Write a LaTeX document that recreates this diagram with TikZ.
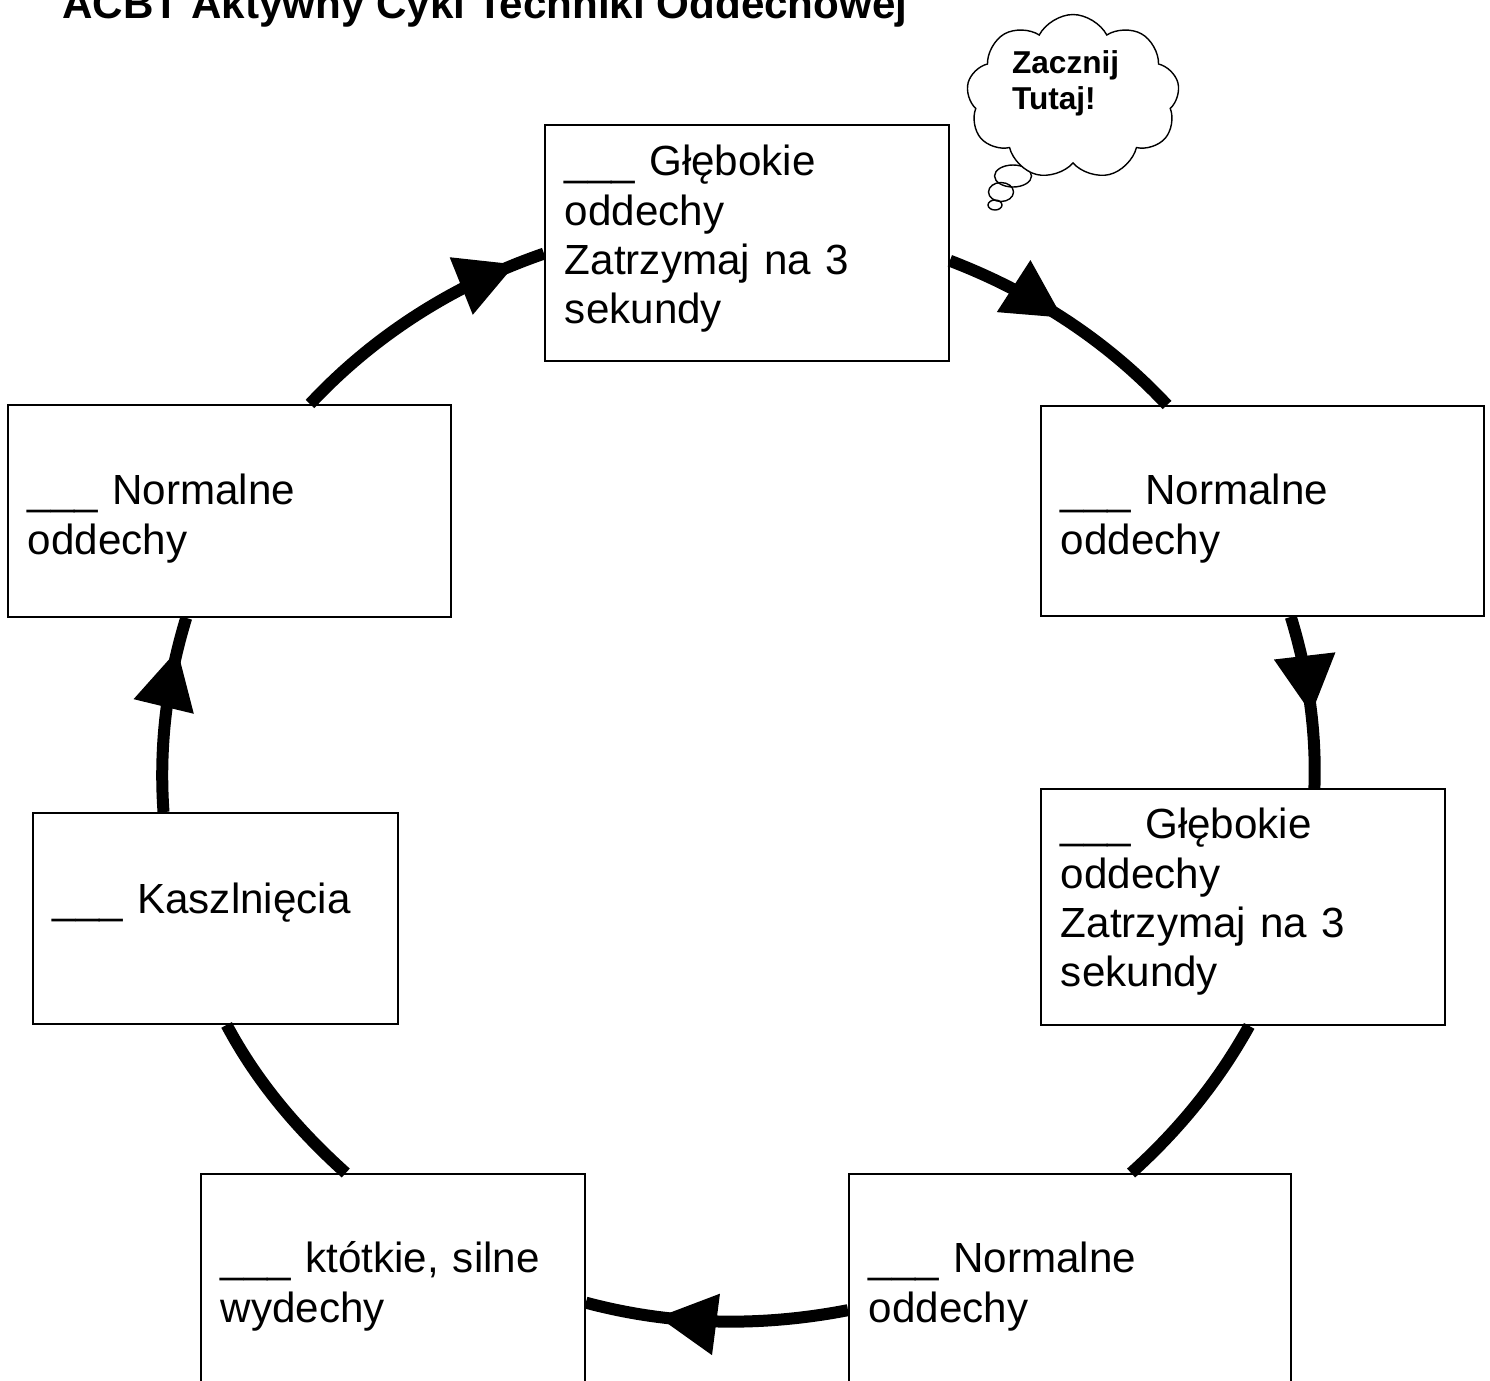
\documentclass[tikz,border=0pt]{standalone}
\usepackage{fontspec}
\setmainfont{Liberation Sans}
\usetikzlibrary{arrows.meta, decorations.markings, shapes.symbols}

\tikzset{
    stage/.style={draw, line width=1.1pt, fill=white, anchor=north west,
        align=left, inner xsep=0.4cm, inner ysep=0pt,
        font=\fontsize{24pt}{28pt}\selectfont},
    ring/.style={line width=0.24cm, looseness=0.87},
    headat/.style={decoration={markings, mark=at position #1 with
        {\arrow{Triangle[length=1.16cm, width=1.24cm, line width=0pt]}}},
        postaction={decorate}}
}

\begin{document}
\begin{tikzpicture}[x=0.02cm, y=0.02cm]
    \useasboundingbox (0,0) rectangle (1490,-1380);
    \clip (0,0) rectangle (1490,-1380);

    % Title
    \node[anchor=base west, inner sep=0pt, font=\bfseries\fontsize{24pt}{28pt}\selectfont]
        (title) at (62,-18) {ACBT Aktywny Cykl Techniki Oddechowej};

    % Thought bubble
    \draw[line width=0.8pt] (1013,-176) ellipse [x radius=18.5, y radius=11];
    \draw[line width=0.8pt] (1001,-192) ellipse [x radius=12.5, y radius=9.5];
    \draw[line width=0.8pt] (995,-205) ellipse [x radius=7, y radius=5];
    \node[cloud, draw, fill=white, line width=0.8pt, cloud puffs=9, cloud puff arc=125,
        cloud ignores aspect, minimum width=4.26cm, minimum height=3.3cm, inner sep=0pt,
        text width=2.44cm, text height=0pt, text depth=0.96cm, align=left,
        font=\bfseries\fontsize{18pt}{21pt}\selectfont]
        (start) at (1073,-97) {Zacznij\\Tutaj!};

    % Steps of the cycle
    \node[stage, text width=7.28cm, text height=1.02cm, text depth=3.70cm]
        (deep1) at (544,-124) {\_\_\_ Głębokie\\oddechy\\Zatrzymaj na 3\\sekundy};
    \node[stage, text width=8.06cm, text height=1.98cm, text depth=2.22cm]
        (norm1) at (1040,-405) {\_\_\_ Normalne\\oddechy};
    \node[stage, text width=7.28cm, text height=1.00cm, text depth=3.72cm]
        (deep2) at (1040,-788) {\_\_\_ Głębokie\\oddechy\\Zatrzymaj na 3\\sekundy};
    \node[stage, text width=8.04cm, text height=1.98cm, text depth=2.22cm]
        (norm2) at (848,-1173) {\_\_\_ Normalne\\oddechy};
    \node[stage, text width=6.88cm, text height=1.98cm, text depth=2.22cm]
        (huff) at (200,-1173) {\_\_\_ któtkie, silne\\wydechy};
    \node[stage, text width=6.50cm, text height=2.02cm, text depth=2.20cm]
        (cough) at (32,-812) {\_\_\_ Kaszlnięcia};
    \node[stage, text width=8.06cm, text height=2.00cm, text depth=2.24cm]
        (norm3) at (7,-404) {\_\_\_ Normalne\\oddechy};

    % Connectors round the cycle
    \draw[ring, headat=0.89] (norm3.53) to[out=47, in=199] (deep1.183);
    \draw[ring, headat=0.48] (deep1.355) to[out=339, in=133] (norm1.132);
    \draw[ring, headat=0.57] (norm1.285) to[out=287, in=88] (deep2.59);
    \draw[ring] (deep2.273) to[out=241, in=42] (norm2.60);
    \draw[ring, headat=0.72] (norm2.188) to[out=191, in=345] (huff.353);
    \draw[ring] (huff.114) to[out=138, in=298] (cough.276);
    \draw[ring, headat=0.83] (cough.116) to[out=94, in=253] (norm3.248);
\end{tikzpicture}
\end{document}
